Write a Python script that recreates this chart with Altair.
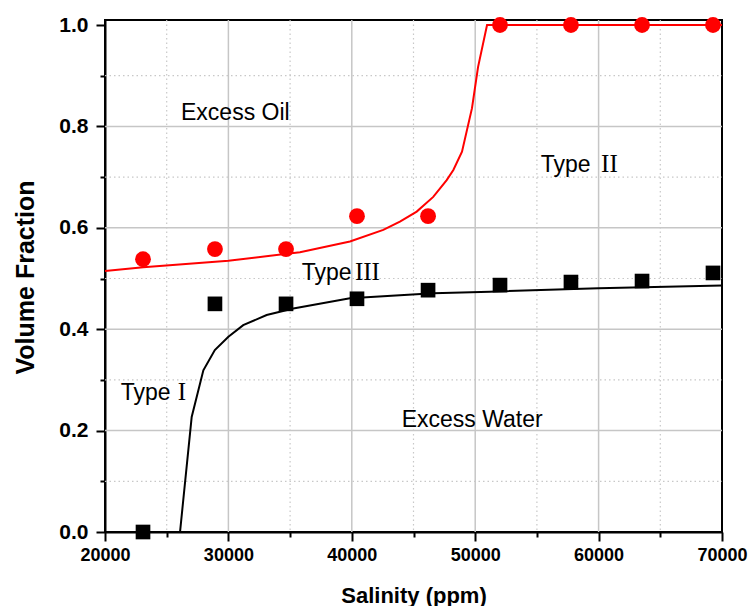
import altair as alt
import pandas as pd

# Measured points
salinity_pts = [23080, 28910, 34670, 40420, 46180, 52010, 57760, 63520, 69270]
oil_pts = [0.538, 0.558, 0.558, 0.623, 0.623, 1.0, 1.0, 1.0, 1.0]
water_pts = [0.0, 0.450, 0.450, 0.460, 0.477, 0.487, 0.493, 0.495, 0.511]

# Fitted curves
oil_curve_x = [20000, 23100, 30000, 35800, 39850, 42550, 43900, 45260, 46600, 47690,
               48230, 48930, 49740, 50230, 50960, 70000]
oil_curve_y = [0.515, 0.522, 0.535, 0.552, 0.573, 0.596, 0.612, 0.632, 0.661, 0.694,
               0.714, 0.750, 0.836, 0.917, 1.0, 1.0]
water_curve_x = [20000, 26080, 27025, 27970, 28900, 30000, 31200, 33100, 35260, 39850,
                 46600, 51200, 60000, 70000]
water_curve_y = [0.0, 0.0, 0.227, 0.319, 0.359, 0.385, 0.408, 0.428, 0.441, 0.461,
                 0.471, 0.474, 0.481, 0.486]

# Annotations
sans_text = ["Excess Oil", "Excess Water", "Type", "Type", "Type"]
sans_x = [26160, 44040, 21270, 35940, 55310]
sans_y = [0.8126, 0.2077, 0.2604, 0.497, 0.7107]
serif_text = ["I", "III", "II"]
serif_x = [25900, 40250, 60200]
serif_y = [0.2604, 0.497, 0.7107]

x_ticks = list(range(20000, 70001, 5000))
y_ticks = [round(i * 0.1, 1) for i in range(11)]
x_major = [30000, 40000, 50000, 60000]
x_minor = [25000, 35000, 45000, 55000, 65000]
y_major = [0.2, 0.4, 0.6, 0.8]
y_minor = [0.1, 0.3, 0.5, 0.7, 0.9]

pts = pd.DataFrame({"x": salinity_pts, "oil": oil_pts, "water": water_pts})
oilc = pd.DataFrame({"x": oil_curve_x, "y": oil_curve_y})
watc = pd.DataFrame({"x": water_curve_x, "y": water_curve_y})
sans_df = pd.DataFrame({"x": sans_x, "y": sans_y, "t": sans_text})
serif_df = pd.DataFrame({"x": serif_x, "y": serif_y, "t": serif_text})
xmaj_df = pd.DataFrame({"v": x_major})
xmin_df = pd.DataFrame({"v": x_minor})
ymaj_df = pd.DataFrame({"v": y_major})
ymin_df = pd.DataFrame({"v": y_minor})

xscale = alt.Scale(domain=[20000, 70000], nice=False, zero=False)
yscale = alt.Scale(domain=[0, 1.0099], nice=False, zero=False)

XMAJ = "datum.value % 10000 === 0"
YMAJ = "round(datum.value * 10) % 2 === 0"

x_axis = alt.Axis(
    values=x_ticks,
    title="Salinity (ppm)",
    labelExpr=f"{XMAJ} ? datum.label : ''",
    format="d",
    labelFont="Liberation Sans", labelFontSize=18, labelFontWeight="bold",
    labelColor="black", labelPadding=5, labelFlush=False,
    titleFont="Liberation Sans", titleFontSize=22, titleFontWeight="bold",
    titleColor="black", titleY=70, titleBaseline="alphabetic",
    domainColor="black", domainWidth=2,
    tickColor="black", tickWidth=2,
    tickSize={"condition": {"test": XMAJ, "value": 9}, "value": 5},
    grid=False,
)
y_axis = alt.Axis(
    values=y_ticks,
    title="Volume Fraction",
    format=".1f",
    labelExpr=f"{YMAJ} ? datum.label : ''",
    labelFont="Liberation Sans", labelFontSize=21, labelFontWeight="bold",
    labelColor="black", labelPadding=8, labelFlush=False,
    titleFont="Liberation Sans", titleFontSize=25, titleFontWeight="bold",
    titleColor="black", titleX=-72, titleY=257, titleBaseline="alphabetic",
    titleAngle=270,
    domainColor="black", domainWidth=2,
    tickColor="black", tickWidth=2,
    tickSize={"condition": {"test": YMAJ, "value": 9}, "value": 5},
    grid=False,
)

xg_major = alt.Chart(xmaj_df).mark_rule(color="#c6c6c6", strokeWidth=1.5).encode(
    x=alt.X("v:Q", scale=xscale, axis=x_axis),
    y=alt.value(0), y2=alt.value(512))
xg_minor = alt.Chart(xmin_df).mark_rule(color="#c8c8c8", strokeWidth=1.2, strokeDash=[1.5, 3]).encode(
    x=alt.X("v:Q", scale=xscale),
    y=alt.value(0), y2=alt.value(512))
yg_major = alt.Chart(ymaj_df).mark_rule(color="#c6c6c6", strokeWidth=1.5).encode(
    y=alt.Y("v:Q", scale=yscale, axis=y_axis),
    x=alt.value(0), x2=alt.value(617))
yg_minor = alt.Chart(ymin_df).mark_rule(color="#c8c8c8", strokeWidth=1.2, strokeDash=[1.5, 3]).encode(
    y=alt.Y("v:Q", scale=yscale),
    x=alt.value(0), x2=alt.value(617))

oil_line = alt.Chart(oilc).mark_line(color="#ff0000", strokeWidth=2).encode(
    x=alt.X("x:Q", scale=xscale), y=alt.Y("y:Q", scale=yscale)
)
water_line = alt.Chart(watc).mark_line(color="black", strokeWidth=2).encode(
    x=alt.X("x:Q", scale=xscale), y=alt.Y("y:Q", scale=yscale)
)
oil_pts_mark = alt.Chart(pts).mark_point(shape="circle", filled=True, color="#ff0000",
                                         size=250, opacity=1).encode(
    x=alt.X("x:Q", scale=xscale), y=alt.Y("oil:Q", scale=yscale)
)
water_pts_mark = alt.Chart(pts).mark_point(shape="square", filled=True, color="black",
                                           size=215, opacity=1).encode(
    x=alt.X("x:Q", scale=xscale), y=alt.Y("water:Q", scale=yscale)
)
sans_mark = alt.Chart(sans_df).mark_text(font="Liberation Sans", fontSize=23, align="left",
                                         baseline="alphabetic", color="black").encode(
    x=alt.X("x:Q", scale=xscale), y=alt.Y("y:Q", scale=yscale), text="t:N"
)
serif_mark = alt.Chart(serif_df).mark_text(font="Liberation Serif", fontSize=25, align="left",
                                           baseline="alphabetic", color="black").encode(
    x=alt.X("x:Q", scale=xscale), y=alt.Y("y:Q", scale=yscale), text="t:N"
)

chart = alt.layer(
    xg_major, xg_minor, yg_major, yg_minor,
    oil_line, water_line, water_pts_mark, oil_pts_mark, sans_mark, serif_mark
).properties(
    width=617, height=512,
    autosize=alt.AutoSizeParams(type="none"),
    padding={"left": 105, "top": 20, "right": 27, "bottom": 74},
    background="white",
).configure_view(
    stroke="black", strokeWidth=2
)

chart.save("out.html", embed_options={"renderer": "svg", "actions": False})
